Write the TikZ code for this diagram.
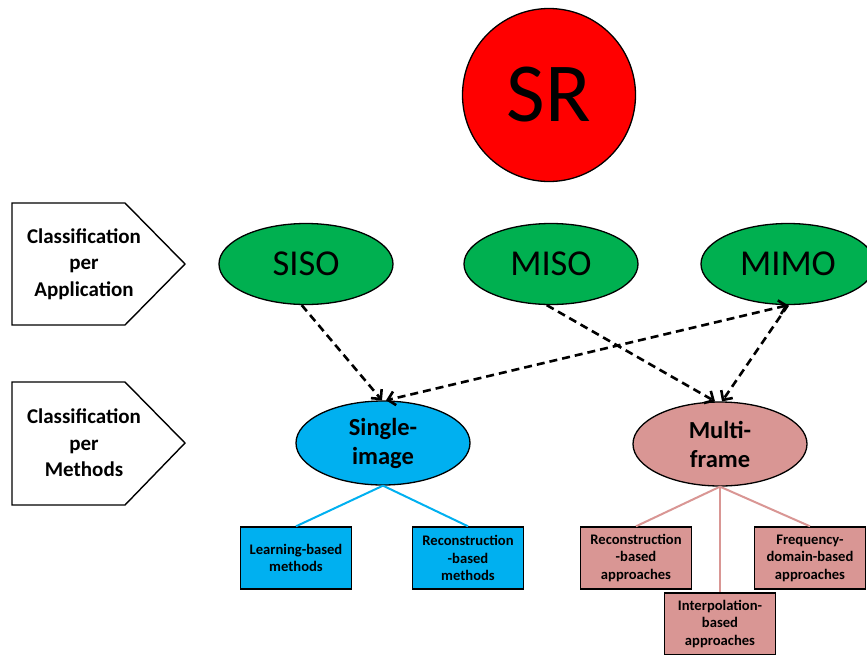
\documentclass[tikz,border=0pt]{standalone}
\usepackage{fontspec}
\setmainfont{Carlito}
\usetikzlibrary{shapes.geometric,arrows.meta}
\definecolor{srred}{HTML}{FF0000}
\definecolor{appgreen}{HTML}{00B050}
\definecolor{skyblue}{HTML}{00B0F0}
\definecolor{rosepink}{HTML}{D99694}
\begin{document}
\begin{tikzpicture}[x=1pt,y=-1pt,
  pent/.style={draw=black,line width=1.4pt,fill=white},
  lbl/.style={align=center,font=\bfseries\fontsize{21}{26.5}\selectfont},
  appnode/.style={ellipse,draw=black,line width=1.3pt,fill=appgreen,minimum width=174pt,minimum height=81pt,inner sep=0pt,font=\fontsize{36.5}{40}\selectfont},
  methnode/.style={ellipse,draw=black,line width=1.3pt,minimum width=174pt,minimum height=84pt,inner sep=0pt,align=center,font=\bfseries\fontsize{24.5}{29}\selectfont},
  subbox/.style={draw=black,line width=1.4pt,minimum width=111pt,minimum height=62pt,inner sep=0pt,align=center,font=\bfseries\fontsize{14.6}{17.5}\selectfont},
  dasharrow/.style={draw=black,line width=2.6pt,dash pattern=on 8pt off 5pt},
  blueline/.style={draw=skyblue,line width=2pt},
  pinkline/.style={draw=rosepink,line width=2pt},
  barb/.style={-{Straight Barb[length=7pt,width=14pt]}}
]
\useasboundingbox (0,0) rectangle (867,654);
\clip (0,0) rectangle (867,654);

% top circle
\node[circle,draw=black,line width=1.3pt,fill=srred,minimum size=173pt,inner sep=0pt,font=\fontsize{84}{84}\selectfont] (sr) at (549,95) {SR};

% side pentagons
\draw[pent] (12,203) -- (125,203) -- (185,264) -- (125,325) -- (12,325) -- cycle;
\node[lbl] (capapp) at (84,264) {Classification\\per\\Application};
\draw[pent] (12,382) -- (125,382) -- (185,443) -- (125,505) -- (12,505) -- cycle;
\node[lbl] (capmeth) at (84,443) {Classification\\per\\Methods};

% application ellipses
\node[appnode] (siso) at (306,264) {SISO};
\node[appnode] (miso) at (551,264) {MISO};
\node[appnode] (mimo) at (788,264) {MIMO};

% method ellipses
\node[methnode,fill=skyblue] (single) at (383,443) {Single-\\image};
\node[methnode,fill=rosepink] (multi) at (720,444) {Multi-\\frame};

% sub boxes
\node[subbox,fill=skyblue] (learn) at (296,558) {Learning-based\\methods};
\node[subbox,fill=skyblue] (reconm) at (468,558) {Reconstruction\\-based\\methods};
\node[subbox,fill=rosepink] (recona) at (636,558) {Reconstruction\\-based\\approaches};
\node[subbox,fill=rosepink] (freq) at (810,558) {Frequency-\\domain-based\\approaches};
\node[subbox,fill=rosepink] (interp) at (720,624) {Interpolation-\\based\\approaches};

% tree lines
\draw[blueline] (single.south) -- (learn.north);
\draw[blueline] (single.south) -- (reconm.north);
\draw[pinkline] (multi.south) -- (recona.north);
\draw[pinkline] (multi.south) -- (interp.north);
\draw[pinkline] (multi.south) -- (freq.north);

% dashed arrows
\draw[dasharrow,barb] (siso.-96) -- ([xshift=-1pt]single.north);
\draw[dasharrow,{Straight Barb[length=7pt,width=14pt]}-{Straight Barb[length=7pt,width=14pt]}] (mimo.south) -- ([xshift=3pt]single.north);
\draw[dasharrow,barb] (miso.-96) -- ([xshift=-5pt]multi.north);
\draw[dasharrow,barb] (mimo.south) -- ([xshift=2pt]multi.north);
\end{tikzpicture}
\end{document}
